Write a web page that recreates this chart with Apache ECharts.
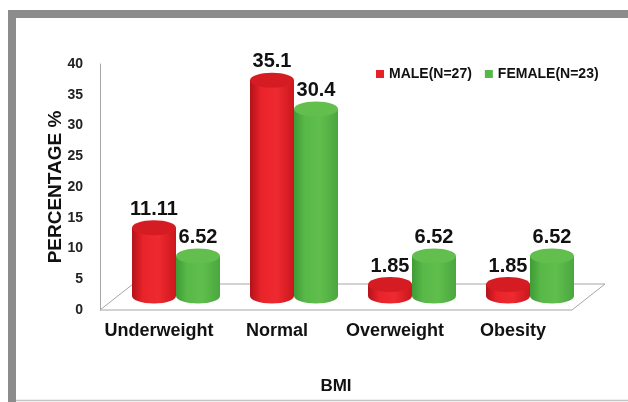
<!DOCTYPE html>
<html>
<head>
<meta charset="utf-8">
<script src="https://cdn.jsdelivr.net/npm/echarts@6/dist/echarts.min.js"></script>
<style>
html, body { margin: 0; padding: 0; background: #fff; }
#main { width: 628px; height: 402px; }
</style>
</head>
<body>
<div id="main"></div>
<script>
var categories = ["Underweight", "Normal", "Overweight", "Obesity"];
var maleValues = [11.11, 35.1, 1.85, 1.85];
var femaleValues = [6.52, 30.4, 6.52, 6.52];
var seriesNames = ["MALE(N=27)", "FEMALE(N=23)"];
var yTicks = [0, 5, 10, 15, 20, 25, 30, 35, 40];

var wide = "'Liberation Sans', Arial, sans-serif";

var myChart = echarts.init(document.querySelector("#main"));

// depth shift of the bars (3d look)
var DX = 17, DY = -14;
var BAR_W = 44, RY = 7.5;

function cylinder(side, body, top) {
	return function (params, api) {
		var cat = api.value(0);
		var val = api.value(1);
		var pTop = api.coord([cat, val]);
		var pBot = api.coord([cat, 0]);
		var cx = pTop[0] + DX + (side === 0 ? -BAR_W / 2 : BAR_W / 2);
		var yTop = pTop[1] + DY;
		var yBot = pBot[1] + DY;
		var grad = new echarts.graphic.LinearGradient(0, 0, 1, 0, body);
		return {
			type: "group",
			children: [
				{ type: "ellipse", shape: { cx: cx, cy: yBot, rx: BAR_W / 2, ry: RY }, style: { fill: grad } },
				{ type: "rect", shape: { x: cx - BAR_W / 2, y: yTop, width: BAR_W, height: yBot - yTop }, style: { fill: grad } },
				{ type: "ellipse", shape: { cx: cx, cy: yTop, rx: BAR_W / 2, ry: RY }, style: { fill: top } },
				{ type: "text", style: {
					x: cx, y: yTop - RY - 1, text: String(val),
					textAlign: "center", textVerticalAlign: "bottom",
					font: "bold 20px " + wide, fill: "#111"
				} }
			]
		};
	};
}

var redBody = [
	{ offset: 0, color: "#b3121a" }, { offset: 0.25, color: "#e9232a" },
	{ offset: 0.6, color: "#ee2a30" }, { offset: 1, color: "#cc161e" }
];
var greenBody = [
	{ offset: 0, color: "#3f9b37" }, { offset: 0.25, color: "#58b948" },
	{ offset: 0.6, color: "#60be4c" }, { offset: 1, color: "#4aa63f" }
];

var option = {
	animation: false,
	grid: { left: 100, right: 56, top: 64, bottom: 92 },
	legend: {
		left: 371, top: 62,
		itemWidth: 8, itemHeight: 8, itemGap: 13,
		icon: "rect",
		data: seriesNames,
		textStyle: { fontFamily: wide, fontWeight: "bold", fontSize: 14, color: "#111" }
	},
	xAxis: {
		type: "category",
		data: categories,
		name: "BMI",
		nameLocation: "middle",
		nameGap: 68,
		nameMoveOverlap: false,
		nameTextStyle: { fontFamily: wide, fontWeight: "bold", fontSize: 17, color: "#111" },
		axisLine: { show: false },
		axisTick: { show: false },
		axisLabel: { interval: 0, margin: 12, fontFamily: wide, fontWeight: "bold", fontSize: 18, color: "#111" }
	},
	yAxis: {
		type: "value",
		min: 0, max: 40, interval: 5,
		name: "PERCENTAGE %",
		nameLocation: "middle",
		nameRotate: 90,
		nameGap: 35,
		nameMoveOverlap: false,
		nameTextStyle: { fontFamily: wide, fontWeight: "bold", fontSize: 19, color: "#111" },
		axisLine: { show: true, lineStyle: { color: "#a6a6a6" } },
		axisTick: { show: false },
		splitLine: { show: false },
		axisLabel: {
			margin: 17, fontFamily: wide, fontWeight: "bold", fontSize: 14, color: "#222",
			formatter: function (v) { return yTicks.indexOf(v) >= 0 ? String(v) : ""; }
		}
	},
	graphic: [
		{ type: "polyline", shape: { points: [[12, 402], [12, 14], [640, 14]] }, style: { stroke: "#8c8c8c", lineWidth: 8, fill: null } },
		{ type: "line", shape: { x1: 16, y1: 400.5, x2: 628, y2: 400.5 }, style: { stroke: "#c4c4c4", lineWidth: 1.5 } }
	],
	series: [
		{
			type: "custom",
			silent: true,
			z: 1,
			data: [[0, 0]],
			renderItem: function (params, api) {
				var cs = params.coordSys;
				var y0 = api.coord([0, 0])[1];
				var x0 = cs.x, x1 = cs.x + cs.width;
				return {
					type: "polygon",
					shape: { points: [[x0, y0], [x1, y0], [x1 + 33, y0 - 26], [x0 + 33, y0 - 26]] },
					style: { fill: "none", stroke: "#a6a6a6", lineWidth: 1 }
				};
			}
		},
		{
			name: seriesNames[0],
			type: "custom",
			z: 2,
			itemStyle: { color: "#e8202a" },
			data: maleValues.map(function (v, i) { return [i, v]; }),
			renderItem: cylinder(0, redBody, "#d51c23")
		},
		{
			name: seriesNames[1],
			type: "custom",
			z: 3,
			itemStyle: { color: "#56b848" },
			data: femaleValues.map(function (v, i) { return [i, v]; }),
			renderItem: cylinder(1, greenBody, "#62be4d")
		}
	]
};

myChart.setOption(option);
</script>
</body>
</html>
